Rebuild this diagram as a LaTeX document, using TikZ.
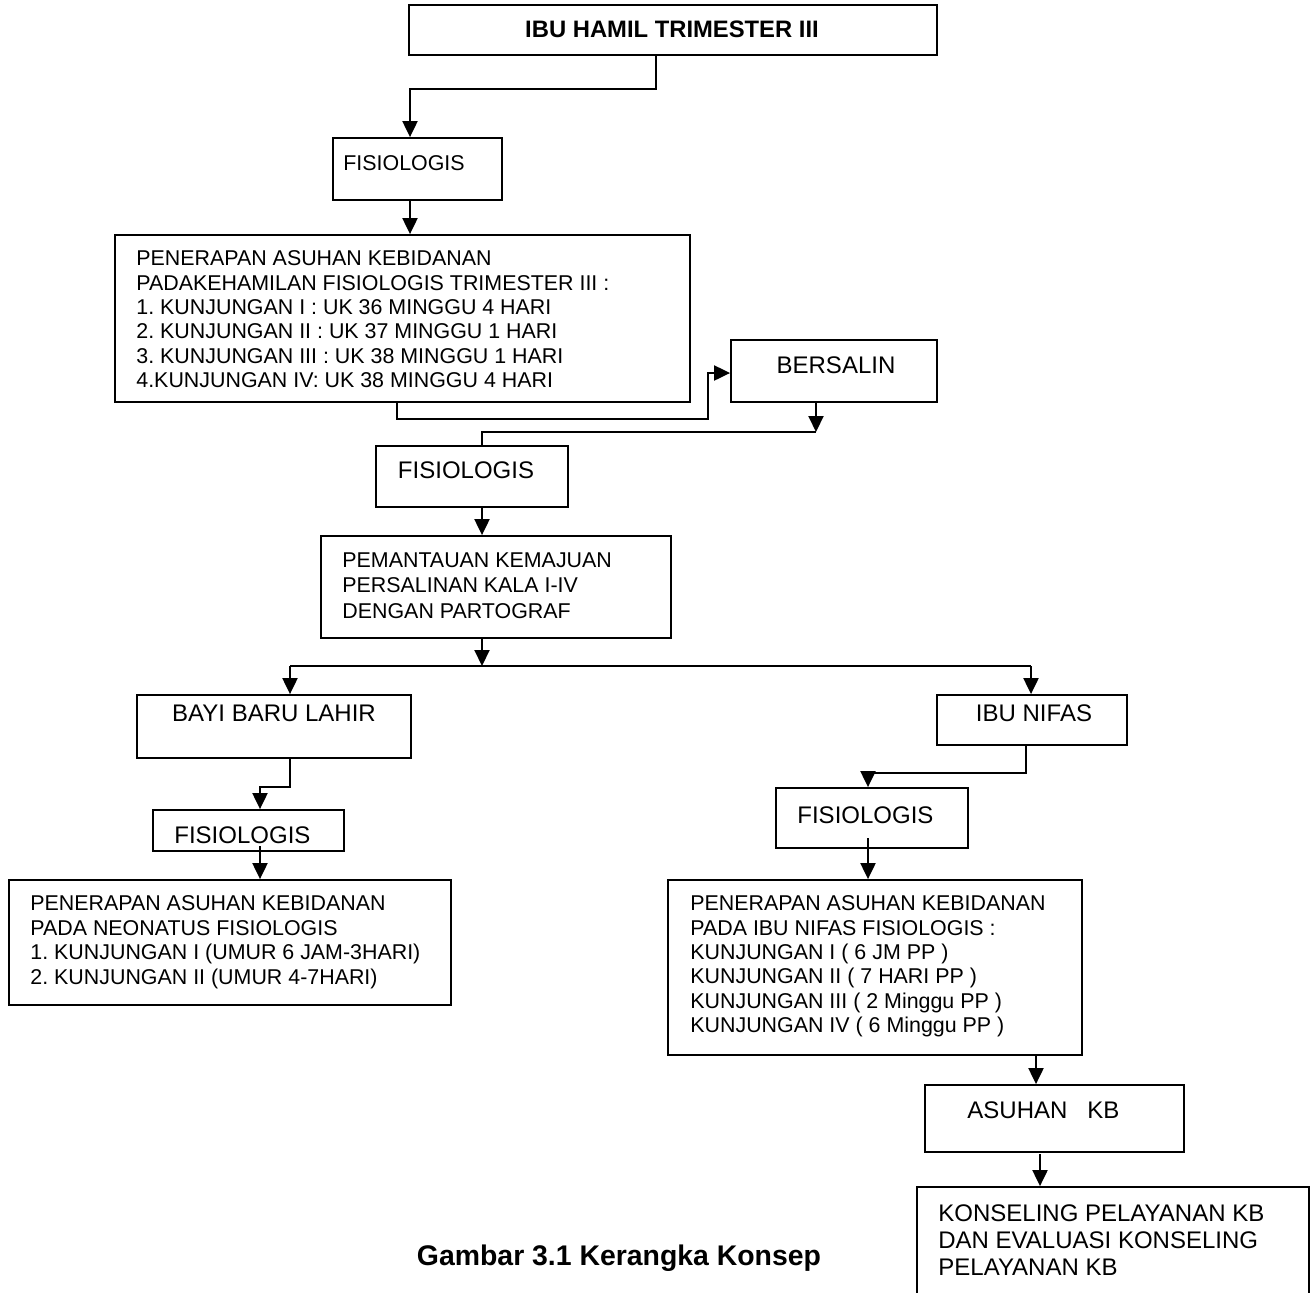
\documentclass[tikz,border=0pt]{standalone}
\usepackage{fontspec}
\setmainfont{Liberation Sans}
\usetikzlibrary{fit,arrows.meta}
\frenchspacing
\begin{document}
\begin{tikzpicture}[x=0.5pt,y=-0.5pt,
  box/.style={draw, line width=0.9pt, inner sep=0pt, rectangle},
  con/.style={line width=1pt},
  arr/.style={con, -{Triangle[width=7.5pt,length=8pt]}},
  sm/.style={inner sep=0pt, font=\frenchspacing\fontsize{10.7pt}{12.2pt}\selectfont},
  md/.style={inner sep=0pt, font=\frenchspacing\fontsize{12pt}{13.5pt}\selectfont},
]
\useasboundingbox (0,0) rectangle (1311,1292);
\clip (0,0) rectangle (1311,1292);
\fill[white] (0,0) rectangle (1311,1292);

% boxes
\node[box, fit={(409,5) (937,55)}] (A) {};
\node[box, fit={(333,138) (502,200)}] (F1) {};
\node[box, fit={(115,235) (690,402)}] (P1) {};
\node[box, fit={(731,340) (937,402)}] (BS) {};
\node[box, fit={(376,446) (568,507)}] (F2) {};
\node[box, fit={(321,536) (671,638)}] (PM) {};
\node[box, fit={(137,695) (411,758)}] (BY) {};
\node[box, fit={(937,695) (1127,745)}] (NF) {};
\node[box, fit={(153,810) (344,851)}] (F3) {};
\node[box, fit={(9,880) (451,1005)}] (NE) {};
\node[box, fit={(776,788) (968,848)}] (F4) {};
\node[box, fit={(668,880) (1082,1055)}] (P2) {};
\node[box, fit={(925,1085) (1184,1152)}] (KB) {};
\node[box, fit={(917,1187) (1309,1330)}] (KS) {};

% texts
\node[inner sep=0pt, font=\fontsize{11.9pt}{14pt}\selectfont\bfseries, anchor=base] (tA) at (672,37.5) {IBU HAMIL TRIMESTER III};
\node[sm, anchor=west] (t1) at (343,163) {FISIOLOGIS};
\node[sm, align=left, anchor=north west] (t2) at (136,250.3) {PENERAPAN ASUHAN KEBIDANAN\\PADAKEHAMILAN FISIOLOGIS TRIMESTER III :\\1. KUNJUNGAN I : UK 36 MINGGU 4 HARI\\2. KUNJUNGAN II : UK 37 MINGGU 1 HARI\\3. KUNJUNGAN III : UK 38 MINGGU 1 HARI\\4.KUNJUNGAN IV: UK 38 MINGGU 4 HARI};
\node[md, anchor=base] (t3) at (836,373.6) {BERSALIN};
\node[md, anchor=base] (t4) at (466,478.6) {FISIOLOGIS};
\node[inner sep=0pt, font=\frenchspacing\fontsize{10.7pt}{12.75pt}\selectfont, align=left, anchor=north west] (t5) at (342,552.3) {PEMANTAUAN KEMAJUAN\\PERSALINAN KALA I-IV\\DENGAN PARTOGRAF};
\node[md, anchor=base] (t6) at (274,721.6) {BAYI BARU LAHIR};
\node[md, anchor=base] (t7) at (1034,721.6) {IBU NIFAS};
\begin{scope}
\clip (153,810) rectangle (344,843);
\node[md, anchor=west] (t8) at (174,835) {FISIOLOGIS};
\end{scope}
\node[inner sep=0pt, font=\frenchspacing\fontsize{10.7pt}{12.25pt}\selectfont, align=left, anchor=north west] (t9) at (30,895.3) {PENERAPAN ASUHAN KEBIDANAN\\PADA NEONATUS FISIOLOGIS\\1. KUNJUNGAN I (UMUR 6 JAM-3HARI)\\2. KUNJUNGAN II (UMUR 4-7HARI)};
\node[md, anchor=west] (t10) at (797,815) {FISIOLOGIS};
\node[sm, align=left, anchor=north west] (t11) at (690,895.3) {PENERAPAN ASUHAN KEBIDANAN\\PADA IBU NIFAS FISIOLOGIS :\\KUNJUNGAN I ( 6 JM PP )\\KUNJUNGAN II ( 7 HARI PP )\\KUNJUNGAN III ( 2 Minggu PP )\\KUNJUNGAN IV ( 6 Minggu PP )};
\node[md, anchor=west] (t12) at (967,1110) {ASUHAN~~~KB};
\node[md, align=left, anchor=north west] (t13) at (938,1204.4) {KONSELING PELAYANAN KB\\DAN EVALUASI KONSELING\\PELAYANAN KB};
\node[inner sep=0pt, font=\fontsize{14.2pt}{17pt}\selectfont\bfseries, anchor=base] (cap) at (619,1265) {Gambar 3.1 Kerangka Konsep};

% connectors
\coordinate (j1) at (656,89);
\coordinate (j2) at (410,89);
\draw[arr] (A.south -| j1) -- (j1) -- (j2) -- (j2 |- F1.north);
\draw[arr] (F1.south -| j2) -- (P1.north -| j2);
\coordinate (j4) at (397,419);
\coordinate (j5) at (708,373);
\draw[arr] (P1.south -| j4) -- (j4) -| (j5) -- (BS.west |- j5);
\coordinate (j6) at (816,432);
\coordinate (j7) at (482,432);
\draw[arr] (BS.south -| j6) -- (j6);
\draw[con] (j6) -- (j7) -- (j7 |- F2.north);
\draw[arr] (F2.south -| j7) -- (PM.north -| j7);
\coordinate (j8) at (482,666);
\draw[arr] (PM.south -| j8) -- (j8);
\coordinate (j9) at (290,666);
\coordinate (j10) at (1031,666);
\draw[con] (j9) -- (j10);
\draw[arr] (j9) -- (j9 |- BY.north);
\draw[arr] (j10) -- (j10 |- NF.north);
\coordinate (j11) at (290,787);
\coordinate (j12) at (260,787);
\draw[arr] (BY.south -| j11) -- (j11) -- (j12) -- (j12 |- F3.north);
\coordinate (j13) at (260,846);
\draw[arr] (j13) -- (j13 |- NE.north);
\coordinate (j14) at (1026,773);
\coordinate (j15) at (868,773);
\draw[arr] (NF.south -| j14) -- (j14) -- (j15) -- (j15 |- F4.north);
\coordinate (j16) at (868,838);
\draw[arr] (j16) -- (j16 |- P2.north);
\coordinate (j17) at (1036,1070);
\draw[arr] (P2.south -| j17) -- (KB.north -| j17);
\coordinate (j18) at (1040,1154);
\draw[arr] (j18) -- (j18 |- KS.north);
\end{tikzpicture}
\end{document}
